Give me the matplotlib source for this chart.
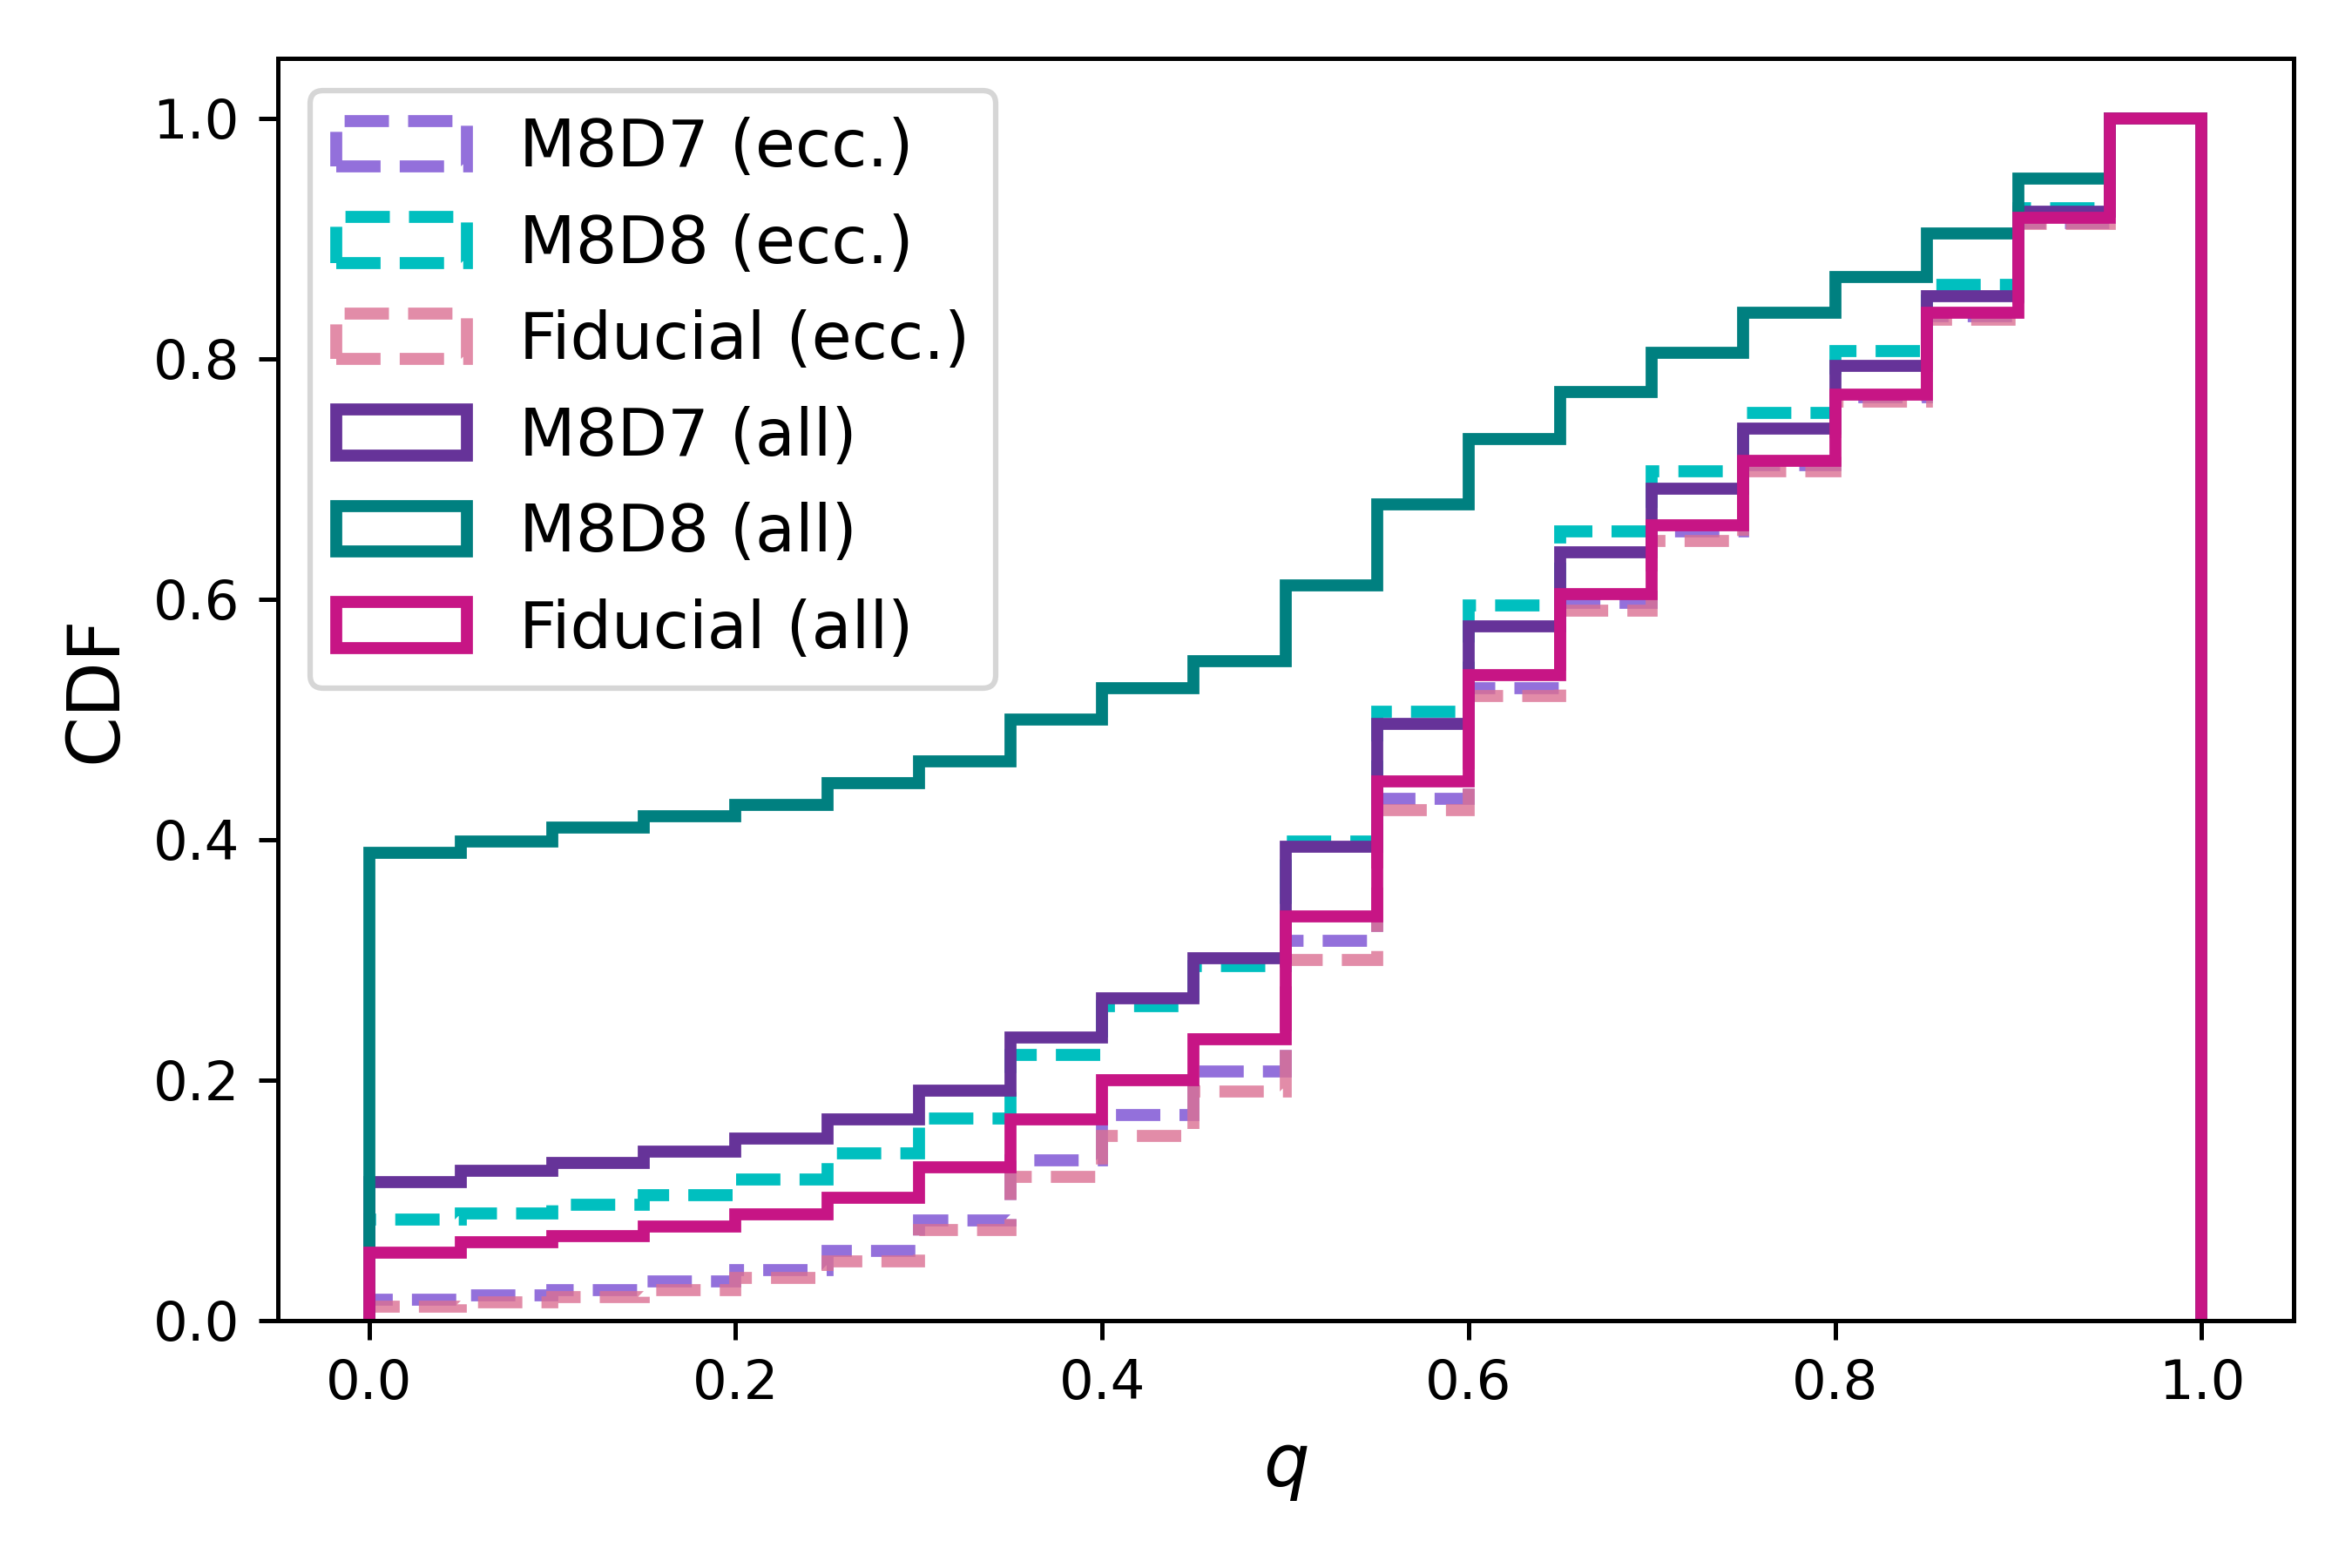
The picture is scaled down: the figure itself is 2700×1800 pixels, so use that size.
import numpy as np
import matplotlib
matplotlib.use("Agg")
import matplotlib.pyplot as plt
from matplotlib.patches import StepPatch
from matplotlib.legend_handler import HandlerPatch

# bin edges in q (0.05 wide)
edges = np.linspace(0, 1, 21)

# cumulative fractions read per bin
m8d7_ecc = [0.017, 0.021, 0.025, 0.032, 0.042, 0.058, 0.083, 0.133, 0.171, 0.207,
            0.316, 0.434, 0.526, 0.597, 0.656, 0.711, 0.768, 0.835, 0.913, 1.0]
m8d8_ecc = [0.084, 0.089, 0.096, 0.104, 0.117, 0.139, 0.168, 0.221, 0.261, 0.295,
            0.398, 0.506, 0.595, 0.656, 0.706, 0.755, 0.806, 0.861, 0.925, 1.0]
fid_ecc = [0.011, 0.015, 0.019, 0.025, 0.035, 0.049, 0.075, 0.119, 0.153, 0.190,
           0.300, 0.424, 0.519, 0.590, 0.648, 0.706, 0.764, 0.832, 0.912, 1.0]
m8d7_all = [0.115, 0.124, 0.131, 0.140, 0.151, 0.167, 0.191, 0.235, 0.268, 0.301,
            0.394, 0.496, 0.577, 0.639, 0.692, 0.742, 0.794, 0.852, 0.922, 1.0]
m8d8_all = [0.389, 0.398, 0.410, 0.419, 0.429, 0.447, 0.465, 0.500, 0.526, 0.548,
            0.611, 0.679, 0.733, 0.772, 0.805, 0.838, 0.868, 0.904, 0.950, 1.0]
fid_all = [0.056, 0.065, 0.070, 0.078, 0.088, 0.102, 0.127, 0.167, 0.200, 0.234,
           0.336, 0.448, 0.537, 0.604, 0.661, 0.715, 0.770, 0.838, 0.917, 1.0]

fig, ax = plt.subplots(figsize=(6, 4), dpi=450)
fig.subplots_adjust(left=0.118, right=0.975, bottom=0.158, top=0.963)

LW = 2.2

# eccentric subsets (dashed)
ax.stairs(m8d7_ecc, edges, color='mediumpurple', lw=LW, ls='--', label='M8D7 (ecc.)')
ax.stairs(m8d8_ecc, edges, color='c', lw=LW, ls='--', label='M8D8 (ecc.)')
ax.stairs(fid_ecc, edges, color='palevioletred', lw=LW, ls='--', alpha=0.8,
          label='Fiducial (ecc.)')

# all mergers (solid)
ax.stairs(m8d7_all, edges, color='rebeccapurple', lw=LW, label='M8D7 (all)')
ax.stairs(m8d8_all, edges, color='teal', lw=LW, label='M8D8 (all)')
ax.stairs(fid_all, edges, color='mediumvioletred', lw=LW, label='Fiducial (all)')

ax.set_xlabel('$q$', fontsize=13.3)
ax.set_ylabel('CDF', fontsize=13.3)
# rectangle handles like histtype='step'
ax.legend(loc='upper left', fontsize=12, handler_map={StepPatch: HandlerPatch()})

fig.savefig('out.png', dpi=450)
